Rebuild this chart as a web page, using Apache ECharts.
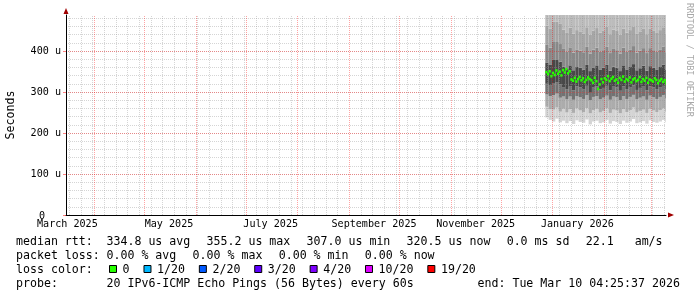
<!DOCTYPE html>
<html><head><meta charset="utf-8">
<script src="https://cdn.jsdelivr.net/npm/echarts@6/dist/echarts.min.js"></script>
<style>html,body{margin:0;padding:0;background:#fff}#c{width:697px;height:297px}</style>
</head><body><div id="c"></div>
<script>
// ---------------- data ----------------
const endTimeStr = '2026-03-10T04:25:37Z';
const spanDays = 360;
const yMax = 487.8;
const yMajorStep = 100;
const yMinorStep = 20;
const monthLabels = ['March 2025','May 2025','July 2025','September 2025','November 2025','January 2026'];
const monthLabelDates = ['2025-03-16','2025-05-16','2025-07-16','2025-09-16','2025-11-16','2026-01-16'];

// median rtt (microseconds), one value per day
const medianStart = '2025-12-27T18:00:00Z';
const medianStepDays = 1;
const medianRtt = [
  348, 343, 350, 338, 346, 341, 352, 344, 349, 340, 353, 347, 355.2, 345, 350,
  330, 327, 334, 325, 331, 336, 328, 333, 324, 329,
  335, 331, 328, 322, 334, 326, 307, 318, 331, 323,
  333, 329, 338, 326, 332, 336, 327, 330, 322, 334,
  329, 337, 325, 331, 328, 335, 323, 330, 333, 326,
  329, 336, 324, 331, 327, 334, 322, 330, 328, 325,
  333, 329, 321, 327, 331, 324, 328, 320.5
];

// smoke quantile bounds (microseconds), one value per two days
const smokeStart = '2025-12-27T18:00:00Z';
const smokeStepDays = 2;
const smokeP0 = [238,232,228,235,226,230,224,229,222,231,227,225,233,221,228,230,224,226,232,223,229,227,222,230,225,228,234,224,226,229,223,231,227,225,228,232,226];
const smokeP1 = [264,258,257,262,252,259,250,258,249,260,255,251,261,248,256,259,250,254,260,249,257,255,248,258,251,256,262,250,254,257,249,259,255,251,256,260,252];
const smokeP2 = [294,290,292,296,286,289,282,289,281,290,287,283,292,280,288,290,282,286,291,281,289,287,280,290,283,288,293,282,286,289,281,291,287,283,288,292,284];
const smokeP3 = [320,317,322,324,318,312,306,313,304,314,311,307,315,298,312,314,306,310,315,304,313,311,303,314,307,312,316,305,310,313,304,314,311,307,312,315,306];
const smokeP4 = [372,366,378,378,374,362,356,365,353,361,359,354,366,351,360,365,355,359,367,352,362,359,351,365,355,361,368,353,358,364,352,363,359,355,361,367,354];
const smokeP5 = [415,408,422,422,417,405,398,409,396,404,401,397,410,394,403,408,398,402,411,395,405,402,394,408,398,404,412,396,401,407,395,407,402,398,404,411,397];
const smokeP6 = [462,454,472,472,466,452,444,457,442,451,448,443,458,440,450,456,445,449,459,441,452,449,440,455,445,451,460,443,448,454,441,454,449,444,451,458,442];
const smokeP7 = [540,520,560,555,548,530,515,535,510,528,522,512,538,505,525,532,518,521,540,508,530,524,506,534,516,527,545,512,519,529,507,536,523,514,526,541,511];
const smokeColors = ['#d4d4d4','#acacac','#727272','#484848','#888888','#a6a6a6','#bcbcbc'];

// legend texts
const statRows = [
  {label:'median rtt:',  items:['334.8 us avg','355.2 us max','307.0 us min','320.5 us now','0.0 ms sd','22.1   am/s']},
  {label:'packet loss:', items:['0.00 % avg','0.00 % max','0.00 % min','0.00 % now']}
];
const lossLabels = ['0','1/20','2/20','3/20','4/20','10/20','19/20'];
const lossColors = ['#26ff00','#00b8ff','#0059ff','#5e00ff','#7e00ff','#dd00ff','#ff0000'];
const probeText = '20 IPv6-ICMP Echo Pings (56 Bytes) every 60s';
const endText = 'end: Tue Mar 10 04:25:37 2026';
const watermark = 'RRDTOOL / TOBI OETIKER';

// ---------------- build ----------------
const DAY = 86400000;
const endTime = Date.parse(endTimeStr);
const startTime = endTime - spanDays * DAY;
const labelTimes = monthLabelDates.map(s => Date.parse(s + 'T00:00:00Z'));
const FONT = 'DejaVu Sans Mono';
const CW = 6.97; // char advance for legend font
const GRID_GRAY = 'rgba(150,150,150,0.40)';
const GRID_RED = 'rgba(255,0,0,0.36)';

const t0m = Date.parse(medianStart);
const medianData = medianRtt.map((v, i) => [t0m + i * medianStepDays * DAY, v]);
const t0s = Date.parse(smokeStart);
const smokeData = smokeP0.map((v, i) => [t0s + i * smokeStepDays * DAY,
  smokeP0[i], smokeP1[i], smokeP2[i], smokeP3[i], smokeP4[i], smokeP5[i], smokeP6[i], smokeP7[i]]);

// time grid lines: weeks (Mondays) and month starts
const gridLines = [];
for (let t = Math.ceil(startTime / DAY) * DAY; t <= endTime; t += DAY) {
  const d = new Date(t);
  if (d.getUTCDay() === 1 && d.getUTCDate() !== 1) gridLines.push([t, 0]);
}
for (let t = Math.ceil(startTime / DAY) * DAY; t <= endTime; t += DAY) {
  const d = new Date(t);
  if (d.getUTCDate() === 1) gridLines.push([t, 1]);
}

function clipRect(r, cs) {
  return echarts.graphic.clipRectByRect(r, {x: cs.x, y: cs.y, width: cs.width, height: cs.height});
}

const chart = echarts.init(document.getElementById('c'), null, {renderer: 'canvas', width: 697, height: 297});

// legend graphics
const graphic = [];
const rowY = [241.5, 255.5, 269.5, 283.5];
const tab = 106.5, gap = 16.4;
function txt(x, y, s) {
  graphic.push({type: 'text', x: x, y: y, silent: true,
    style: {text: s, font: '11.6px "' + FONT + '"', fill: '#000', align: 'left', verticalAlign: 'middle'}});
}
statRows.forEach((row, r) => {
  txt(16, rowY[r], row.label);
  let x = tab;
  row.items.forEach(s => { txt(x, rowY[r], s); x += s.length * CW + gap; });
});
txt(16, rowY[2], 'loss color:');
let bx = 109;
lossLabels.forEach((s, i) => {
  graphic.push({type: 'rect', silent: true, shape: {x: bx + 0.5, y: 265.5, width: 7, height: 7},
    style: {fill: lossColors[i], stroke: '#000', lineWidth: 1}});
  txt(bx + 13.6, rowY[2], s);
  bx += 13.6 + s.length * CW + 13.9;
});
txt(16, rowY[3], 'probe:');
txt(tab, rowY[3], probeText);
txt(477.5, rowY[3], endText);
graphic.push({type: 'text', x: 689, y: 60, rotation: -Math.PI / 2, silent: true,
  style: {text: watermark, font: '8.6px "' + FONT + '"', fill: '#a8a8a8', align: 'center', verticalAlign: 'middle'}});

const option = {
  animation: false,
  backgroundColor: '#fff',
  grid: {left: 66, top: 15, width: 600, height: 200, containLabel: false, outerBoundsMode: 'none'},
  xAxis: [
    {type: 'value', position: 'bottom', min: startTime, max: endTime, z: 3,
      axisLine: {show: true, onZero: false, lineStyle: {color: '#000', width: 1}},
      axisTick: {show: false}, splitLine: {show: false},
      axisLabel: {customValues: labelTimes, margin: 4, color: '#000', fontFamily: FONT, fontSize: 10.1,
        formatter: function (v) { const i = labelTimes.indexOf(v); return i >= 0 ? monthLabels[i] : ''; }}},
    {type: 'value', position: 'bottom', min: startTime, max: endTime, z: 4,
      axisLine: {show: true, onZero: false, symbol: ['none', 'triangle'], symbolSize: [5, 6], symbolOffset: [0, 5],
        lineStyle: {color: '#a00000', width: 0}},
      axisTick: {show: false}, splitLine: {show: false}, axisLabel: {show: false}}
  ],
  yAxis: [
    {type: 'value', position: 'left', min: 0, max: yMax, interval: yMajorStep, z: 4,
      name: 'Seconds', nameLocation: 'middle', nameGap: 49, nameRotate: 90,
      nameTextStyle: {fontFamily: FONT, fontSize: 11.6, color: '#000'},
      axisLine: {show: true, onZero: false, lineStyle: {color: '#000', width: 1}},
      axisTick: {show: true, length: 3, lineStyle: {color: 'rgba(255,0,0,0.5)', width: 1}},
      splitLine: {show: true, showMinLine: false, showMaxLine: false,
        lineStyle: {color: GRID_RED, width: 1, type: [1, 1]}},
      axisLabel: {showMaxLabel: false, margin: 5, color: '#000', fontFamily: FONT, fontSize: 10.1,
        formatter: v => v === 0 ? '{z|0}' : (v + ' u'),
        rich: {z: {fontFamily: FONT, fontSize: 10.1, color: '#000', padding: [3, 16, 0, 0]}}}},
    {type: 'value', position: 'left', min: 0, max: yMax, interval: yMinorStep, z: 3,
      axisLine: {show: false}, axisTick: {show: false}, axisLabel: {show: false},
      splitLine: {show: true, showMinLine: false, showMaxLine: false,
        lineStyle: {color: GRID_GRAY, width: 1, type: [1, 1]}}},
    {type: 'value', position: 'left', min: 0, max: yMax, z: 5,
      axisLine: {show: true, onZero: false, symbol: ['none', 'triangle'], symbolSize: [5, 6], symbolOffset: [0, 4],
        lineStyle: {color: '#a00000', width: 0}},
      axisTick: {show: false}, axisLabel: {show: false}, splitLine: {show: false}}
  ],
  graphic: graphic,
  series: [
    {type: 'custom', name: 'smoke', z: 1, xAxisIndex: 0, yAxisIndex: 0, data: smokeData,
      renderItem: function (params, api) {
        const t = api.value(0);
        const t1 = t + smokeStepDays * DAY;
        const children = [];
        for (let k = 0; k < 7; k++) {
          const a = api.coord([t, api.value(1 + k)]);
          const b = api.coord([t1, api.value(2 + k)]);
          const r = clipRect({x: a[0], y: b[1], width: b[0] - a[0], height: a[1] - b[1]}, params.coordSys);
          if (r) children.push({type: 'rect', shape: r, style: {fill: smokeColors[k]}});
        }
        return {type: 'group', children: children};
      }},
    {type: 'custom', name: 'timeGrid', z: 3, xAxisIndex: 0, yAxisIndex: 0, data: gridLines,
      renderItem: function (params, api) {
        const t = api.value(0);
        const major = api.value(1) === 1;
        const a = api.coord([t, 0]);
        const b = api.coord([t, yMax]);
        const x = Math.round(a[0]);
        const children = [];
        for (let y = Math.round(b[1]) + 1; y < Math.round(a[1]); y += 2) {
          children.push({type: 'rect', shape: {x: x, y: y, width: 1, height: 1},
            style: {fill: major ? GRID_RED : GRID_GRAY}});
        }
        return {type: 'group', children: children};
      }},
    {type: 'custom', name: 'median', z: 6, xAxisIndex: 0, yAxisIndex: 0, data: medianData,
      renderItem: function (params, api) {
        const t = api.value(0);
        const a = api.coord([t, api.value(1)]);
        const b = api.coord([t + medianStepDays * DAY, api.value(1)]);
        const r = clipRect({x: a[0], y: a[1] - 1.5, width: b[0] - a[0] + 0.6, height: 2.6}, params.coordSys);
        return r ? {type: 'rect', shape: r, style: {fill: lossColors[0]}} : null;
      }}
  ]
};
chart.setOption(option);
</script>
</body></html>
